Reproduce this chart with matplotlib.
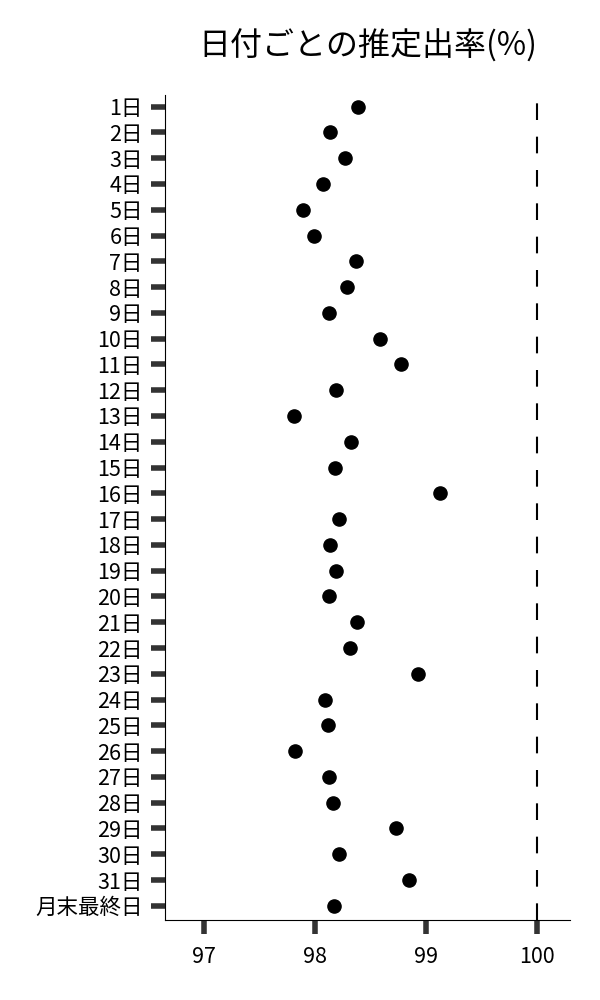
import matplotlib
matplotlib.use("Agg")
import matplotlib.pyplot as plt

plt.rcParams['font.family'] = ['Noto Sans CJK JP', 'DejaVu Sans']

# 日付ラベル
days = [f"{i}日" for i in range(1, 32)] + ["月末最終日"]

# 推定出率(%)
rates = [98.39, 98.14, 98.27, 98.07, 97.89, 97.99, 98.37, 98.29, 98.13,
         98.59, 98.78, 98.19, 97.81, 98.33, 98.18, 99.13, 98.22, 98.14,
         98.19, 98.13, 98.38, 98.32, 98.93, 98.09, 98.12, 97.82, 98.13,
         98.16, 98.73, 98.22, 98.85, 98.17]

xticks = [97, 98, 99, 100]
ref_line = 100

fig = plt.figure(figsize=(6, 10), dpi=100)
ax = fig.add_axes([0.275, 0.08, 0.675, 0.825])

ax.scatter(rates, days, s=90, color='black', zorder=3)
ax.axvline(ref_line, color='black', lw=1.5, ls=(0, (8, 8)))

ax.set_xlim(96.65, 100.3)
ax.set_ylim(len(days) - 0.45, -0.45)
ax.set_xticks(xticks)
ax.set_xticklabels([str(t) for t in xticks])

ax.spines['top'].set_visible(False)
ax.spines['right'].set_visible(False)
ax.tick_params(axis='both', length=10, width=4, color='#333333',
               labelsize=15.5, pad=6)
ax.tick_params(axis='x', pad=9)

ax.set_title("日付ごとの推定出率(%)", fontsize=23, pad=28)

fig.savefig("out.png", dpi=100)
